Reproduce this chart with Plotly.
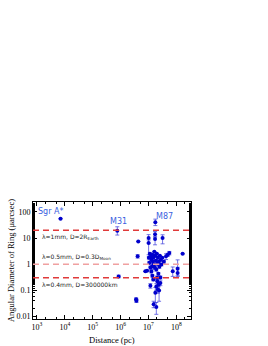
import math
import plotly.graph_objects as go

# ---- data (distance in pc, ring angular diameter in micro-arcsec) ----
names_lbl = ["Sgr A*", "M31", "M87"]
lbl_x = [3000, 8.3e5, 3.7e7]
lbl_y = [100, 41.5, 64]

dist = [7000, 7.6e5, 8.5e5, 1.76e7, 4.3e6, 1.01e7, 1.01e7, 1.72e7, 1.72e7, 3.2e7,
        3.6e6, 3.7e6, 4.08e6, 1.53e7, 1.91e7, 1.76e7, 2.4e7,
        7.7e6, 8.9e6, 1.17e7, 1.34e7, 2.03e7, 2.32e7, 2.67e7,
        7.4e7, 1.11e8, 1.11e8, 1.68e8, 5.6e7, 4.27e7, 4.9e7,
        1.12e7, 1.22e7, 1.27e7, 1.38e7, 1.44e7, 1.49e7, 1.56e7, 1.62e7, 1.69e7, 1.76e7,
        1.84e7, 1.91e7, 2.0e7, 2.08e7, 2.17e7, 2.26e7, 2.36e7, 2.45e7, 2.56e7, 2.67e7,
        2.78e7, 2.9e7, 1.27e7, 1.38e7, 1.49e7, 2.08e7, 1.17e7, 3.14e7, 3.56e7, 1.07e7,
        1.03e7, 1.91e7, 2.17e7]
ring = [55, 19, 0.34, 40, 7.4, 10, 6.4, 14.1, 9.1, 10,
        0.045, 0.040, 2.0, 0.029, 0.023, 0.08, 0.098,
        0.53, 0.565, 0.15, 0.82, 0.30, 0.166, 0.19,
        0.53, 0.66, 0.46, 2.5, 2.67, 2.0, 2.3,
        2.51, 1.93, 1.48, 2.3, 1.24, 1.77, 0.96, 2.99, 0.74, 2.11,
        1.36, 0.62, 2.51, 1.04, 1.77, 0.43, 1.24, 0.80, 2.11, 0.31,
        1.48, 0.96, 0.52, 0.36, 0.26, 0.22, 0.74, 1.77, 1.24, 1.14,
        1.77, 0.139, 0.107]
err_up = [0, 8, 0.04, 13, 0, 3.5, 2, 3.7, 2, 3.3,
          0.006, 0.006, 0.3, 0.009, 0.011, 0.047, 0.08,
          0, 0, 0.03, 0.2, 0.05, 0.03, 0.04,
          0.25, 0.8, 0.3, 0, 0.4, 0.5, 0.3,
          0.3, 0.2, 0.15, 0, 0.15, 0.2, 0.1, 0, 0.1, 0.3,
          0.15, 0.08, 0, 0.12, 0.2, 0.05, 0.15, 0.1, 0, 0.04,
          0.2, 0.1, 0.06, 0.04, 0.03, 0.03, 0.1, 0, 0.15, 0.15,
          0.2, 0.04, 0.03]
err_lo = [0, 6, 0.04, 10, 0, 3.6, 4.1, 3, 3.6, 4,
          0.006, 0.006, 0.3, 0.0075, 0.011, 0.046, 0.06,
          0, 0, 0.03, 0.2, 0.05, 0.03, 0.04,
          0.19, 0.3, 0.12, 0, 0.4, 0.5, 0.3,
          0.3, 0.2, 0.15, 0, 0.15, 0.2, 0.1, 0, 0.1, 0.3,
          0.15, 0.08, 0, 0.12, 0.2, 0.05, 0.15, 0.1, 0, 0.04,
          0.2, 0.1, 0.06, 0.04, 0.03, 0.03, 0.1, 0, 0.15, 0.15,
          0.2, 0.04, 0.03]

line_levels = [20, 1, 0.3]
line_colors = ["#e03a3a", "#f0a0a0", "#e03a3a"]
line_text = ["λ=1mm, D=2R<sub>Earth</sub>", "λ=0.5mm, D=0.3D<sub>Moon</sub>",
             "λ=0.4mm, D=300000km"]
text_x = [1300, 1300, 1300]
text_y = [11.2, 1.93, 0.166]

x_ticks = [1e3, 1e4, 1e5, 1e6, 1e7, 1e8]
x_ticktext = ["10<sup>3</sup>", "10<sup>4</sup>", "10<sup>5</sup>", "10<sup>6</sup>",
              "10<sup>7</sup>", "10<sup>8</sup>"]
y_ticks = [0.01, 0.1, 1, 10, 100]
y_ticktext = ["0.01", "0.1", "1", "10", "100"]
x_title = "Distance (pc)"
y_title = "Angular Diameter of Ring (μarcsec)"

fig = go.Figure()
fig.add_trace(go.Scatter(
    x=dist, y=ring, mode="markers",
    marker=dict(color="#0000cc", size=4),
    error_y=dict(type="data", symmetric=False, array=err_up, arrayminus=err_lo,
                 color="rgba(70,70,220,0.75)", thickness=1, width=2),
    showlegend=False, cliponaxis=False))

for lv, c in zip(line_levels, line_colors):
    fig.add_shape(type="line", xref="paper", x0=0, x1=1, yref="y", y0=lv, y1=lv,
                  line=dict(color=c, width=1.5, dash="6px,4px"), layer="above")

# annotations on log axes are positioned in log10 units
for t, tx, ty in zip(line_text, text_x, text_y):
    fig.add_annotation(x=math.log10(tx), y=math.log10(ty), xref="x", yref="y",
                       text=t, showarrow=False, xanchor="left", yanchor="middle",
                       font=dict(family="DejaVu Sans", size=6, color="#222222"))

for t, tx, ty in zip(names_lbl, lbl_x, lbl_y):
    fig.add_annotation(x=math.log10(tx), y=math.log10(ty), xref="x", yref="y",
                       text=t, showarrow=False, xanchor="center", yanchor="middle",
                       font=dict(family="DejaVu Sans", size=8, color="#3a5fe0"))

# x-axis title placed just below the tick labels
fig.add_annotation(x=0.5, y=0, xref="paper", yref="paper", text=x_title,
                   showarrow=False, xanchor="center", yanchor="top", yshift=-14,
                   font=dict(family="Liberation Serif", size=8.5, color="black"))

axis_common = dict(showline=True, linecolor="black", linewidth=1, mirror="ticks",
                   ticks="inside", ticklen=4, tickcolor="black", showgrid=False,
                   zeroline=False, automargin=False,
                   tickfont=dict(family="Liberation Serif", size=8, color="black"),
                   minor=dict(ticks="inside", ticklen=2, tickcolor="black", showgrid=False))

fig.update_xaxes(type="log", range=[2.857, 8.525], tickvals=x_ticks, ticktext=x_ticktext,
                 ticklabelstandoff=0, **axis_common)
fig.update_yaxes(type="log", range=[-2.1, 2.38], tickvals=y_ticks, ticktext=y_ticktext,
                 title=dict(text=y_title, standoff=0,
                            font=dict(family="Liberation Serif", size=8.5, color="black")),
                 **axis_common)

fig.update_layout(width=268, height=346, margin=dict(l=33, r=77, t=202, b=27),
                  plot_bgcolor="white", paper_bgcolor="white")
fig.write_html("out.html", config={"displayModeBar": False},
               post_script="document.body.style.margin='0';document.body.style.overflow='hidden';")
